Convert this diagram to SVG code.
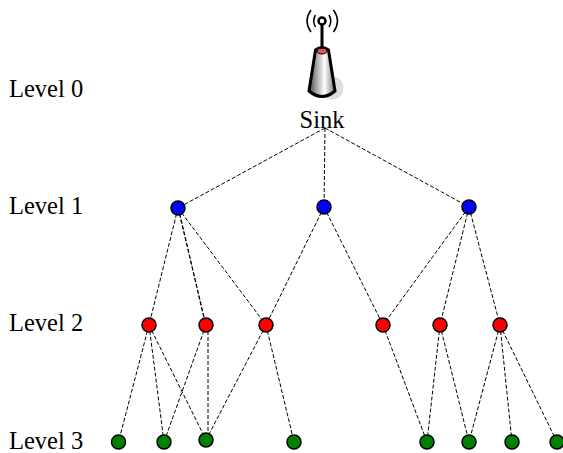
<svg xmlns="http://www.w3.org/2000/svg" width="563" height="453" viewBox="0 0 563 453">
<defs>
<linearGradient id="metal" x1="0" x2="1" y1="0" y2="0">
<stop offset="0" stop-color="#444"/><stop offset="0.25" stop-color="#999"/><stop offset="0.6" stop-color="#fff"/><stop offset="1" stop-color="#777"/>
</linearGradient>
</defs>
<style>
text{font-family:"Liberation Serif","Times New Roman",serif;font-size:24.500px;fill:#000}
.c line{stroke:#000;stroke-width:1;stroke-dasharray:4 2;fill:none}
.n{stroke:#000;stroke-width:1.500}
.b{fill:#0000ff}.r{fill:#ff0000}.g{fill:#008000}
</style>
<rect width="563" height="453" fill="#fff"/>
<g id="labels">
<text x="9" y="97">Level 0</text>
<text x="9" y="214">Level 1</text>
<text x="9" y="331">Level 2</text>
<text x="9" y="449">Level 3</text>
</g>
<g id="connectors" class="c">
<line x1="325" y1="128" x2="178" y2="208"/>
<line x1="325" y1="128" x2="324" y2="207"/>
<line x1="325" y1="128" x2="469" y2="207"/>
<line x1="178" y1="208" x2="149" y2="325"/>
<line x1="178" y1="208" x2="206" y2="325"/>
<line x1="178.500" y1="208" x2="205.500" y2="325"/>
<line x1="178" y1="208" x2="266" y2="325"/>
<line x1="324" y1="207" x2="266" y2="325"/>
<line x1="324" y1="207" x2="383" y2="325"/>
<line x1="469" y1="207" x2="383" y2="325"/>
<line x1="469" y1="207" x2="440" y2="325"/>
<line x1="469" y1="207" x2="500" y2="325"/>
<line x1="149" y1="325" x2="118.500" y2="442"/>
<line x1="149" y1="325" x2="164" y2="442"/>
<line x1="149" y1="325" x2="206" y2="440"/>
<line x1="206" y1="325" x2="164" y2="442"/>
<line x1="208" y1="325" x2="208" y2="440"/>
<line x1="266" y1="325" x2="206" y2="440"/>
<line x1="266" y1="325" x2="294" y2="442"/>
<line x1="383" y1="325" x2="427" y2="442"/>
<line x1="440" y1="325" x2="427" y2="442"/>
<line x1="440" y1="325" x2="469" y2="442"/>
<line x1="500" y1="325" x2="469" y2="442"/>
<line x1="500" y1="325" x2="512" y2="442"/>
<line x1="500" y1="325" x2="557" y2="442"/>
</g>
<g id="sink">
<circle cx="332" cy="88" r="11.500" fill="#ddd"/>
<path d="M315.500 50 Q322 45 328.500 50 L335 91 Q322 102 309 91 Z" fill="url(#metal)" stroke="#000" stroke-width="3"/>
<ellipse cx="322" cy="51" rx="5" ry="3" fill="#f05050" stroke="#000" stroke-width="1"/>
<line x1="322" y1="22" x2="322" y2="49" stroke="#000" stroke-width="3"/>
<circle cx="322" cy="21" r="3.500" fill="#fff" stroke="#000" stroke-width="2.500"/>
<g fill="none" stroke="#000" stroke-width="1.500">
<path d="M315.500 15 Q312 21 315.500 27"/><path d="M311 10 Q303 21 311 32"/>
<path d="M329 15 Q332.500 21 329 27"/><path d="M333.500 10 Q341.500 21 333.500 32"/>
</g>
<text x="322" y="128" text-anchor="middle">Sink</text>
</g>
<g id="n1a"><circle class="n b" cx="178" cy="208" r="7"/></g>
<g id="n1b"><circle class="n b" cx="324" cy="207" r="7"/></g>
<g id="n1c"><circle class="n b" cx="469" cy="207" r="7"/></g>
<g id="n2a"><circle class="n r" cx="149" cy="325" r="7"/></g>
<g id="n2b"><circle class="n r" cx="206" cy="325" r="7"/></g>
<g id="n2c"><circle class="n r" cx="266" cy="325" r="7"/></g>
<g id="n2d"><circle class="n r" cx="383" cy="325" r="7"/></g>
<g id="n2e"><circle class="n r" cx="440" cy="325" r="7"/></g>
<g id="n2f"><circle class="n r" cx="500" cy="325" r="7"/></g>
<g id="n3a"><circle class="n g" cx="118.500" cy="442" r="7"/></g>
<g id="n3b"><circle class="n g" cx="164" cy="442" r="7"/></g>
<g id="n3c"><circle class="n g" cx="206" cy="440" r="7"/></g>
<g id="n3d"><circle class="n g" cx="294" cy="442" r="7"/></g>
<g id="n3e"><circle class="n g" cx="427" cy="442" r="7"/></g>
<g id="n3f"><circle class="n g" cx="469" cy="442" r="7"/></g>
<g id="n3g"><circle class="n g" cx="512" cy="442" r="7"/></g>
<g id="n3h"><circle class="n g" cx="557" cy="442" r="7"/></g>
</svg>
